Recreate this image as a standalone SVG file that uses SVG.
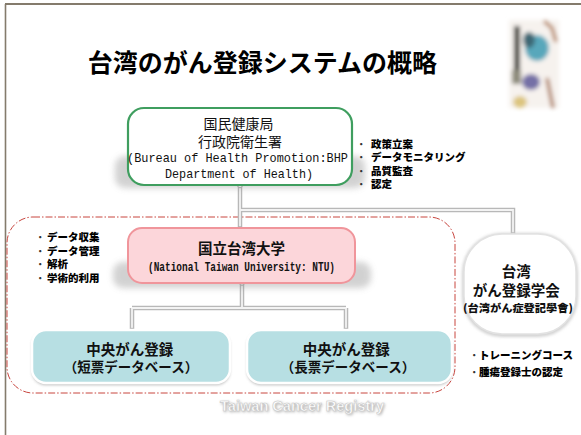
<svg xmlns="http://www.w3.org/2000/svg" width="581" height="435" viewBox="0 0 581 435">
  <defs>
    <style>
      .jp { font-family: "Noto Sans CJK JP", "Noto Sans", sans-serif; }
      .mono { font-family: "Liberation Mono", "DejaVu Sans Mono", monospace; }
      .title { font-size: 25px; font-weight: bold; fill: #000; }
      .lbl { font-size: 14px; fill: #111; }
      .lblb { font-size: 14.5px; font-weight: bold; fill: #111; }
      .bul { font-size: 10.5px; font-weight: 900; fill: #000; }
      .dot { fill: #333; }
      .wire { fill: none; stroke: #b8b8b8; stroke-width: 4.5; }
      .wire-in { fill: none; stroke: #f3f3f3; stroke-width: 1.8; }
      .joint { fill: #fff; stroke: #a8a8a8; stroke-width: 1; }
      .shadow { fill: #8f8f8f; opacity: 0.4; }
    </style>
    <filter id="blur3" x="-20%" y="-50%" width="140%" height="200%">
      <feGaussianBlur stdDeviation="3"/>
    </filter>
    <filter id="blur2" x="-20%" y="-50%" width="140%" height="200%">
      <feGaussianBlur stdDeviation="1.6"/>
    </filter>
    <filter id="fuzzy" x="-50%" y="-50%" width="200%" height="200%">
      <feGaussianBlur stdDeviation="2"/>
    </filter>
  </defs>

  <rect width="581" height="435" fill="#fff"/>

  <!-- page frame -->
  <line x1="5" y1="4" x2="581" y2="4" stroke="#847b6c" stroke-width="2"/>
  <line x1="5.5" y1="4" x2="5.5" y2="435" stroke="#847b6c" stroke-width="1.6"/>

  <!-- title -->
  <text class="jp title" x="262.5" y="72" text-anchor="middle">台湾のがん登録システムの概略</text>

  <!-- small photo decoration, top right -->
  <g id="photo" filter="url(#fuzzy)">
    <rect x="509" y="20" width="50" height="88" fill="#f6f2ee"/>
    <rect x="514" y="26" width="6" height="50" fill="#34352a"/>
    <rect x="512" y="70" width="9" height="14" fill="#8c8a7a"/>
    <ellipse cx="537" cy="48" rx="12" ry="13" fill="#58a7bb"/>
    <ellipse cx="529" cy="40" rx="6" ry="8" fill="#3d6874"/>
    <path d="M544 21 L552 28 L556 42" stroke="#b4805c" stroke-width="3.5" fill="none"/>
    <ellipse cx="531" cy="82" rx="9" ry="8" fill="#7470a6"/>
    <ellipse cx="520" cy="102" rx="7" ry="6" fill="#dcc57e"/>
    <path d="M547 78 L553 108" stroke="#a97352" stroke-width="3.5" fill="none"/>
  </g>

  <!-- dash-dot group boundary -->
  <rect x="7" y="217" width="448" height="176" rx="26" fill="none" stroke="#c8463f" stroke-width="1" stroke-dasharray="7 2 1.5 2"/>

  <!-- connectors -->
  <g id="connectors">
    <path class="wire" d="M240 185 V229 M240 210 H513 V235 M242 283 V308 M132 308 H346 M132 308 V331 M346 308 V331"/>
    <path class="wire-in" d="M240 185 V229 M240 210 H513 V235 M242 283 V308 M132 308 H346 M132 308 V331 M346 308 V331"/>
    <circle class="joint" cx="240" cy="185.5" r="2.3"/>
    <circle class="joint" cx="240" cy="229" r="2.3"/>
    <circle class="joint" cx="513" cy="235" r="2.3"/>
    <circle class="joint" cx="242" cy="283" r="2.3"/>
    <circle class="joint" cx="132" cy="330.5" r="2.3"/>
    <circle class="joint" cx="346" cy="330.5" r="2.3"/>
  </g>

  <!-- Bureau of Health Promotion -->
  <g id="bhp">
    <rect class="shadow" x="115" y="156" width="250" height="32" rx="10" filter="url(#blur3)"/>
    <rect x="128" y="108" width="224" height="77" rx="16" fill="#fff" stroke="#3f9e5f" stroke-width="2.2"/>
    <text class="jp lbl" text-anchor="middle">
      <tspan x="240" y="129">国民健康局</tspan>
      <tspan x="240" y="147">行政院衛生署</tspan>
    </text>
    <text class="mono" font-size="13" fill="#111">
      <tspan x="127" y="162" textLength="221" lengthAdjust="spacingAndGlyphs">(Bureau of Health Promotion:BHP</tspan>
      <tspan x="165" y="178" textLength="148" lengthAdjust="spacingAndGlyphs">Department of Health)</tspan>
    </text>
  </g>

  <!-- BHP roles -->
  <g id="bhp-roles" class="jp">
    <text class="bul">
      <tspan class="dot" x="358" y="147.5">·</tspan><tspan x="371" y="147.5">政策立案</tspan>
      <tspan class="dot" x="358" y="160.5">·</tspan><tspan x="371" y="160.5">データモニタリング</tspan>
      <tspan class="dot" x="358" y="174.5">·</tspan><tspan x="371" y="174.5">品質監査</tspan>
      <tspan class="dot" x="358" y="187.5">·</tspan><tspan x="371" y="187.5">認定</tspan>
    </text>
  </g>

  <!-- NTU roles -->
  <g id="ntu-roles" class="jp">
    <text class="bul">
      <tspan class="dot" x="37" y="240.5">·</tspan><tspan x="47" y="240.5">データ収集</tspan>
      <tspan class="dot" x="37" y="254.5">·</tspan><tspan x="47" y="254.5">データ管理</tspan>
      <tspan class="dot" x="37" y="268">·</tspan><tspan x="47" y="268">解析</tspan>
      <tspan class="dot" x="37" y="281.5">·</tspan><tspan x="47" y="281.5">学術的利用</tspan>
    </text>
  </g>

  <!-- National Taiwan University -->
  <g id="ntu">
    <rect class="shadow" x="113" y="262" width="258" height="26" rx="10" filter="url(#blur3)"/>
    <rect x="128" y="228" width="227" height="55" rx="14" fill="#fcd6da" stroke="#f0959b" stroke-width="2"/>
    <text class="jp lblb" x="241.5" y="254" text-anchor="middle">国立台湾大学</text>
    <text class="mono" font-size="12" font-weight="bold" x="148" y="270.5" textLength="187" lengthAdjust="spacingAndGlyphs" fill="#111">(National Taiwan University: NTU)</text>
  </g>

  <!-- Taiwan Cancer Registry Association -->
  <g id="association">
    <rect x="462" y="233" width="116" height="104" rx="40" fill="#d2d2d2" filter="url(#blur2)"/>
    <rect x="464" y="234" width="112" height="100" rx="38" fill="#fff" stroke="#e2e2e2" stroke-width="1.5"/>
    <text class="jp lblb" text-anchor="middle">
      <tspan x="518" y="277">台湾</tspan>
      <tspan x="518" y="296">がん登録学会</tspan>
      <tspan x="518" y="311.5" font-size="10.5" font-weight="900" textLength="110" lengthAdjust="spacingAndGlyphs">(台湾がん症登記學會)</tspan>
    </text>
  </g>

  <!-- association roles -->
  <g id="association-roles" class="jp">
    <text class="bul">
      <tspan class="dot" x="471" y="359">·</tspan><tspan x="479" y="359">トレーニングコース</tspan>
      <tspan class="dot" x="471" y="375.5">·</tspan><tspan x="479" y="375.5">腫瘍登録士の認定</tspan>
    </text>
  </g>

  <!-- central registry, short form -->
  <g id="registry-short">
    <rect x="32" y="332" width="198" height="53" rx="14" fill="#8a8a8a" opacity="0.6" filter="url(#blur2)"/>
    <rect x="32" y="330" width="198" height="53" rx="14" fill="#b7dfe3" stroke="#fff" stroke-width="2.5"/>
    <text class="jp lblb" text-anchor="middle">
      <tspan x="131.5" y="355">中央がん登録</tspan>
      <tspan x="131" y="372" font-size="13.5">（短票データベース）</tspan>
    </text>
  </g>

  <!-- central registry, long form -->
  <g id="registry-long">
    <rect x="247" y="332" width="205" height="53" rx="14" fill="#8a8a8a" opacity="0.6" filter="url(#blur2)"/>
    <rect x="247" y="330" width="205" height="53" rx="14" fill="#b7dfe3" stroke="#fff" stroke-width="2.5"/>
    <text class="jp lblb" text-anchor="middle">
      <tspan x="348" y="355">中央がん登録</tspan>
      <tspan x="348" y="372" font-size="13.5">（長票データベース）</tspan>
    </text>
  </g>

  <!-- watermark -->
  <g id="watermark" font-family="Liberation Sans, Arial, sans-serif" font-size="15" font-weight="bold">
    <text x="221" y="412" textLength="164" lengthAdjust="spacingAndGlyphs" fill="#9a9a9a" filter="url(#blur2)">Taiwan Cancer Registry</text>
    <text x="220" y="411" textLength="164" lengthAdjust="spacingAndGlyphs" fill="#fff" stroke="#c9c9c9" stroke-width="0.6">Taiwan Cancer Registry</text>
  </g>
</svg>
